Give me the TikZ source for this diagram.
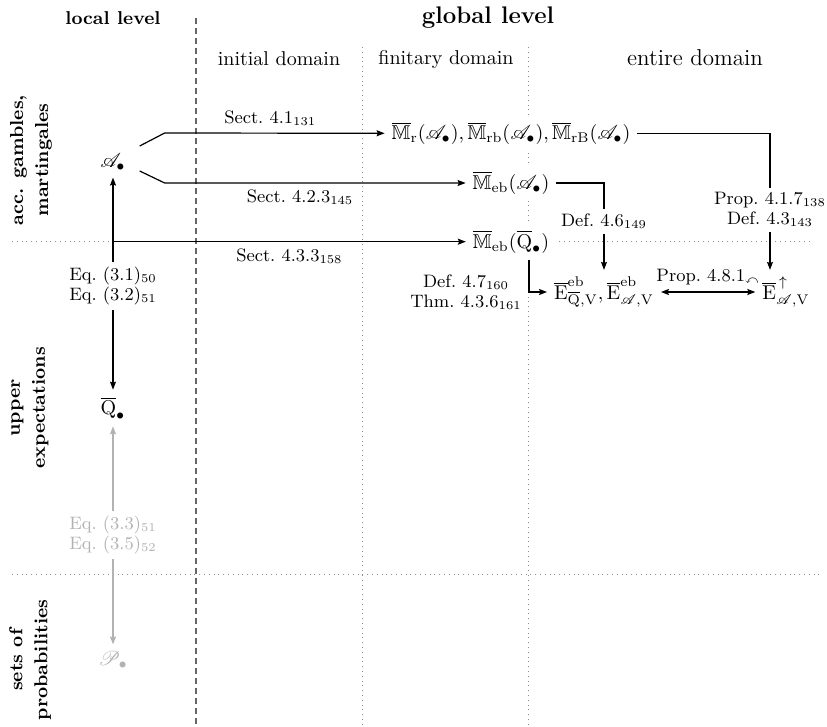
\documentclass[tikz,border=0pt]{standalone}
\usepackage{amsmath,amssymb,mathrsfs}
\usetikzlibrary{arrows.meta}
\begin{document}
\begin{tikzpicture}[x=0.5pt,y=-0.5pt,
  arr/.style={-{Stealth[length=4pt,width=3pt,inset=0.6pt]}, line width=0.6pt},
  dbl/.style={{Stealth[length=4pt,width=3pt,inset=0.6pt]}-{Stealth[length=4pt,width=3pt,inset=0.6pt]}, line width=0.6pt},
  gridline/.style={dotted, black!45, line width=0.4pt},
  levelsep/.style={dash pattern=on 3pt off 2pt, black!60, line width=0.6pt},
  rowlabel/.style={font=\bfseries\fontsize{9.4}{12.5}\selectfont, align=center, rotate=90},
  domlabel/.style={font=\fontsize{10}{12}\selectfont, anchor=base},
  lab/.style={font=\fontsize{9}{10}\selectfont, align=center},
  reflab/.style={lab, fill=white, inner sep=2.5pt},
  obj/.style={font=\fontsize{10}{12}\selectfont},
  objw/.style={obj, fill=white}
]
\useasboundingbox (0,0) rectangle (827,727);

% grid of levels, domains and rows
\draw[gridline] (362.5,47) -- (362.5,727);
\draw[gridline] (528.5,47) -- (528.5,727);
\draw[gridline] (12,241.7) -- (812,241.7);
\draw[gridline] (12,574) -- (820,574);
\draw[levelsep] (196,18) -- (196,727);

% headings
\node[font=\bfseries\fontsize{9.3}{11}\selectfont, anchor=base] (loc) at (113,25) {local level};
\node[font=\bfseries\fontsize{12}{14}\selectfont, anchor=base] (glob) at (488,24) {global level};
\node[domlabel] (ini) at (279,66) {initial domain};
\node[domlabel] (fin) at (446,65) {finitary domain};
\node[font=\fontsize{11.5}{13}\selectfont, anchor=base] (ent) at (695,66) {entire domain};

% row labels
\node[rowlabel] (row1) at (31,160) {acc. gambles,\\martingales};
\node[rowlabel] (row2) at (30,408) {upper\\expectations};
\node[rowlabel] (row3) at (30,660) {sets of\\probabilities};

% objects
\node[obj] (A) at (113,162) {$\mathscr{A}_\bullet$};
\node[obj] (Q) at (113,408) {$\overline{\mathrm{Q}}_\bullet$};
\node[obj, text=black!30] (P) at (113,660) {$\mathscr{P}_\bullet$};
\node[objw] (Mr) at (511,133.3) {$\overline{\mathbb{M}}_{\mathrm{r}}(\mathscr{A}_\bullet), \overline{\mathbb{M}}_{\mathrm{rb}}(\mathscr{A}_\bullet), \overline{\mathbb{M}}_{\mathrm{rB}}(\mathscr{A}_\bullet)$};
\node[objw] (MebA) at (511,183) {$\overline{\mathbb{M}}_{\mathrm{eb}}(\mathscr{A}_\bullet)$};
\node[objw] (MebQ) at (511,241.7) {$\overline{\mathbb{M}}_{\mathrm{eb}}(\overline{\mathrm{Q}}_\bullet)$};
\node[obj] (Eeb) at (604,292) {$\overline{\mathrm{E}}^{\mathrm{eb}}_{\overline{\mathrm{Q}},\mathrm{V}}, \overline{\mathrm{E}}^{\mathrm{eb}}_{\mathscr{A},\mathrm{V}}$};
\node[obj] (Eup) at (786,292) {$\overline{\mathrm{E}}^{\,\uparrow}_{\mathscr{A},\mathrm{V}}$};

% local level
\draw[dbl] (Q.north) -- node[reflab, pos=0.49] {Eq.~(3.1)\textsubscript{50}\\Eq.~(3.2)\textsubscript{51}} (A.south);
\draw[dbl, black!30] (P.north) -- node[reflab, text=black!30, pos=0.5] {Eq.~(3.3)\textsubscript{51}\\Eq.~(3.5)\textsubscript{52}} (Q.south);

% from local to global
\draw[arr] ([shift={(7,-16)}]A.east) -- ++(25,-13)
  -- node[lab, above, pos=0.48] {Sect.~4.1\textsubscript{131}} (Mr.west);
\draw[arr] ([shift={(7,9)}]A.east) -- ++(25,12)
  -- node[lab, below, pos=0.45] {Sect.~4.2.3\textsubscript{145}} (MebA.west);
\draw[arr] (A.south |- MebQ.west)
  -- node[lab, below, pos=0.5] {Sect.~4.3.3\textsubscript{158}} (MebQ.west);

% global level
\draw[arr] (Mr.east) -| node[reflab, pos=0.78] {Prop.~4.1.7\textsubscript{138}\\Def.~4.3\textsubscript{143}} ([xshift=-8pt]Eup.north);
\draw[arr] (MebA.east) -| node[reflab, pos=0.72] {Def.~4.6\textsubscript{149}} (Eeb.north);
\draw[arr] ([xshift=9pt]MebQ.south) |- node[lab, left, pos=0.5] {Def.~4.7\textsubscript{160}\\Thm.~4.3.6\textsubscript{161}} (Eeb.west);
\draw[dbl] (Eeb.east) -- node[lab, above] {Prop.~4.8.1$_{\curvearrowleft}$} (Eup.west);
\end{tikzpicture}
\end{document}
